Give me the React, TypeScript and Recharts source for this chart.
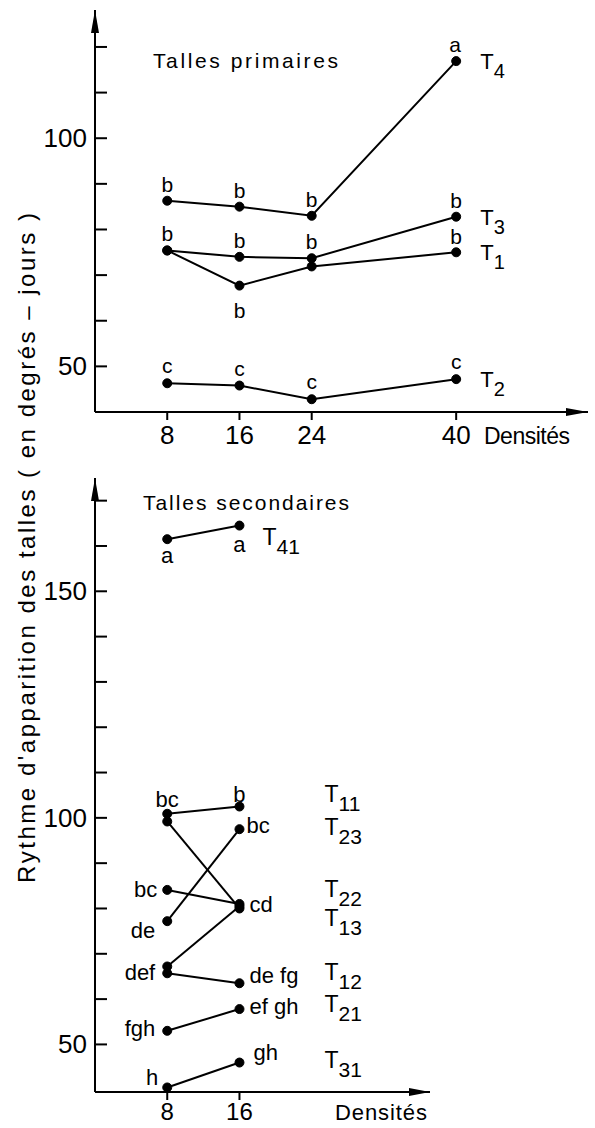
import React from 'react'
import { LineChart, Line, XAxis, YAxis, Customized } from 'recharts'

const FONT = '"Liberation Sans", Arial, sans-serif'

// Talles primaires
const primaryDensities = [8, 16, 24, 40]
const T1 = [75.4, 67.7, 71.9, 75.0]
const T2 = [46.3, 45.8, 42.8, 47.2]
const T3 = [75.4, 74.0, 73.7, 82.8]
const T4 = [86.3, 85.0, 83.0, 116.9]
const lettersT1 = ['', 'b', '', 'b']
const lettersT2 = ['c', 'c', 'c', 'c']
const lettersT3 = ['b', 'b', 'b', 'b']
const lettersT4 = ['b', 'b', 'b', 'a']
const primaryTicksY = [50, 60, 70, 80, 90, 100, 110, 120]
const primaryLabelsY = [50, 100]

// Talles secondaires
const secondaryDensities = [8, 16]
const T41 = [161.5, 164.5]
const T11 = [100.9, 102.5]
const T13 = [99.2, 80.0]
const T23 = [77.2, 97.5]
const T22 = [84.1, 81.0]
const TX = [67.2, 80.5] // trait sans nom sur la figure
const T12 = [65.7, 63.5]
const T21 = [53.0, 57.8]
const T31 = [40.5, 46.0]
const lettersT41 = ['a', 'a']
const lettersT11 = ['bc', 'b']
const lettersT13 = ['', '']
const lettersT23 = ['de', 'bc']
const lettersT22 = ['bc', 'cd']
const lettersTX = ['', '']
const lettersT12 = ['def', 'de fg']
const lettersT21 = ['fgh', 'ef gh']
const lettersT31 = ['h', 'gh']
const secondaryTicksY = [50, 60, 70, 80, 90, 100, 110, 120, 130, 140, 150, 160, 170]
const secondaryLabelsY = [50, 100, 150]

const primaryData = primaryDensities.map((d, i) => ({
  density: d, T1: T1[i], T2: T2[i], T3: T3[i], T4: T4[i],
}))
const secondaryData = secondaryDensities.map((d, i) => ({
  density: d, T41: T41[i], T11: T11[i], T13: T13[i], T23: T23[i], T22: T22[i],
  TX: TX[i], T12: T12[i], T21: T21[i], T31: T31[i],
}))

type Place = [('start' | 'middle' | 'end'), number, number]
type NamePlace = { dx: number; dy: number }

const above: Place = ['middle', 0, -9]

const primaryPlaces: Record<string, Place[]> = {
  T4: [above, above, above, ['middle', -1, -9]],
  T3: [above, above, above, above],
  T1: [above, ['middle', 0, 32], above, ['middle', 0, -8]],
  T2: [['middle', 0, -10], ['middle', 0, -10], ['middle', 0, -10], ['middle', 0, -10]],
}
const primaryNamePlace: NamePlace = { dx: 24, dy: 8 }

const secondaryPlaces: Record<string, Place[]> = {
  T41: [['middle', 0, 24], ['middle', 0, 26]],
  T11: [['middle', 0, -7], ['middle', 0, -5]],
  T13: [above, above],
  T23: [['end', -12, 17], ['start', 7, 4]],
  T22: [['end', -10, 7], ['start', 10, 8]],
  TX: [above, above],
  T12: [['end', -12, 7], ['start', 10, 0]],
  T21: [['end', -12, 5], ['start', 10, 5]],
  T31: [['end', -9, -2], ['start', 14, -3]],
}
const secondaryNamePlaces: Record<string, NamePlace> = {
  T41: { dx: 23, dy: 19 },
  T11: { dx: 85, dy: -5 },
  T13: { dx: 85, dy: 18 },
  T23: { dx: 85, dy: 6 },
  T22: { dx: 85, dy: -7 },
  T12: { dx: 85, dy: -3 },
  T21: { dx: 85, dy: 3 },
  T31: { dx: 85, dy: 5 },
}

function makeDot(
  key: string,
  letters: string[],
  places: Place[],
  name: string,
  namePlace: NamePlace | undefined,
  fontSize: number,
) {
  return (props: any) => {
    const { cx, cy, index } = props
    if (cx == null || cy == null) return <g key={`${key}-${index}`} />
    const letter = letters[index]
    const pl = places[index]
    const last = index === letters.length - 1
    return (
      <g key={`${key}-${index}`}>
        <circle cx={cx} cy={cy} r={4.5} fill="#000" stroke="#000" />
        {letter && pl ? (
          <text x={cx + pl[1]} y={cy + pl[2]} textAnchor={pl[0]} fontSize={fontSize} fontFamily={FONT} fill="#000">
            {letter}
          </text>
        ) : null}
        {last && name && namePlace ? (
          <text x={cx + namePlace.dx} y={cy + namePlace.dy} fontSize={fontSize + 1} fontFamily={FONT} fill="#000">
            {name.slice(0, 1)}
            <tspan dy={9} fontSize={fontSize - 1}>{name.slice(1)}</tspan>
          </text>
        ) : null}
      </g>
    )
  }
}

function yTick(labels: number[]) {
  return (props: any) => {
    const { x, y, payload } = props
    return (
      <g>
        <line x1={x} y1={y} x2={x + 12} y2={y} stroke="#000" strokeWidth={2} />
        {labels.includes(payload.value) ? (
          <text x={x - 8} y={y} dy={9} textAnchor="end" fontSize={26} fontFamily={FONT} fill="#000">
            {payload.value}
          </text>
        ) : null}
      </g>
    )
  }
}

function xTick(dy: number, size: number) {
  return (props: any) => {
    const { x, y, payload } = props
    return (
      <text x={x} y={y} dy={dy} textAnchor="middle" fontSize={size} fontFamily={FONT} fill="#000">
        {payload.value}
      </text>
    )
  }
}

const PrimaryDecor = () => (
  <g fontFamily={FONT} fill="#000">
    <polygon points="588,412 566,408 566,416" fill="#000" />
    <polygon points="95,10 91,33 99,33" fill="#000" />
    <text x={153} y={68} fontSize={21} textLength={185} lengthAdjust="spacing">Talles primaires</text>
    <text x={484} y={444} fontSize={23} textLength={86} lengthAdjust="spacing">Densités</text>
  </g>
)

const SecondaryDecor = () => (
  <g fontFamily={FONT} fill="#000">
    <polygon points="430,632 409,628 409,636" fill="#000" />
    <polygon points="95,18 91,41 99,41" fill="#000" />
    <text x={143} y={50} fontSize={21} textLength={206} lengthAdjust="spacing">Talles secondaires</text>
    <text x={335} y={660} fontSize={22} textLength={92} lengthAdjust="spacing">Densités</text>
  </g>
)

const axisStroke = { stroke: '#000', strokeWidth: 2 }

export default function App() {
  const primaryKeys: [string, string[]][] = [
    ['T4', lettersT4], ['T3', lettersT3], ['T1', lettersT1], ['T2', lettersT2],
  ]
  const secondaryKeys: [string, string[]][] = [
    ['T41', lettersT41], ['T11', lettersT11], ['T13', lettersT13], ['T23', lettersT23],
    ['T22', lettersT22], ['TX', lettersTX], ['T12', lettersT12], ['T21', lettersT21], ['T31', lettersT31],
  ]

  return (
    <div style={{ position: 'absolute', left: 0, top: 0, width: 595, height: 1128, background: '#fff' }}>
      <div style={{ position: 'absolute', left: 0, top: 0 }}>
        <LineChart width={595} height={460} data={primaryData} margin={{ top: 10, right: 7, bottom: 0, left: 0 }}>
          <XAxis
            type="number"
            dataKey="density"
            domain={[0, 54.6]}
            ticks={primaryDensities}
            interval={0}
            height={48}
            axisLine={axisStroke}
            tickLine={axisStroke}
            tickSize={8}
            tick={xTick(22, 26)}
          />
          <YAxis
            type="number"
            domain={[40, 128.1]}
            ticks={primaryTicksY}
            interval={0}
            width={95}
            axisLine={axisStroke}
            tickLine={false}
            tickSize={0}
            tickMargin={0}
            tick={yTick(primaryLabelsY)}
          />
          {primaryKeys.map(([k, letters]) => (
            <Line
              key={k}
              dataKey={k}
              stroke="#000"
              strokeWidth={2}
              isAnimationActive={false}
              activeDot={false}
              dot={makeDot(k, letters, primaryPlaces[k], k, primaryNamePlace, 21)}
            />
          ))}
          <Customized component={PrimaryDecor} />
        </LineChart>
      </div>
      <div style={{ position: 'absolute', left: 0, top: 460 }}>
        <LineChart width={595} height={668} data={secondaryData} margin={{ top: 18, right: 165, bottom: 0, left: 0 }}>
          <XAxis
            type="number"
            dataKey="density"
            domain={[0, 37.1]}
            ticks={secondaryDensities}
            interval={0}
            height={36}
            axisLine={axisStroke}
            tickLine={axisStroke}
            tickSize={8}
            tick={xTick(18, 24)}
          />
          <YAxis
            type="number"
            domain={[39.5, 175]}
            ticks={secondaryTicksY}
            interval={0}
            width={95}
            axisLine={axisStroke}
            tickLine={false}
            tickSize={0}
            tickMargin={0}
            tick={yTick(secondaryLabelsY)}
          />
          {secondaryKeys.map(([k, letters]) => (
            <Line
              key={k}
              dataKey={k}
              stroke="#000"
              strokeWidth={2}
              isAnimationActive={false}
              activeDot={false}
              dot={makeDot(k, letters, secondaryPlaces[k], k === 'TX' ? '' : k, secondaryNamePlaces[k], 22)}
            />
          ))}
          <Customized component={SecondaryDecor} />
        </LineChart>
      </div>
      <svg width={595} height={1128} style={{ position: 'absolute', left: 0, top: 0, pointerEvents: 'none' }}>
        <text
          transform="translate(35,548) rotate(-90)"
          textAnchor="middle"
          fontSize={24}
          fontFamily={FONT}
          fill="#000"
          textLength={670}
          lengthAdjust="spacing"
        >
          Rythme d'apparition des talles ( en degrés – jours )
        </text>
      </svg>
    </div>
  )
}
